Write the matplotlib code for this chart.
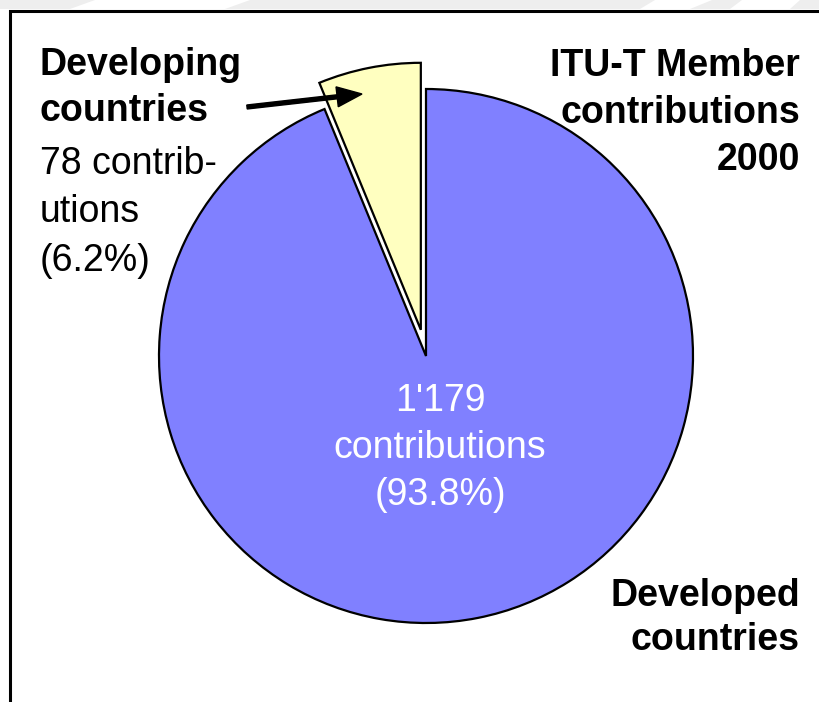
import matplotlib
matplotlib.use("Agg")
import matplotlib.pyplot as plt
from matplotlib.patches import Rectangle, Polygon

# データ（ITU-T Member contributions 2000）
groups = ["Developing countries", "Developed countries"]
contributions = [78, 1179]
shares = [6.2, 93.8]
title_lines = ["ITU-T Member", "contributions", "2000"]
slice_colors = ["#ffffc0", "#8080ff"]

W, H = 820, 702
fig = plt.figure(figsize=(W / 100, H / 100), dpi=100)

# 背景と枠
bg = fig.add_axes([0, 0, 1, 1], zorder=0)
bg.set_xlim(0, W)
bg.set_ylim(H, 0)
bg.axis("off")
bg.add_patch(Rectangle((0, 0), W, 9, color="#eeeeee", lw=0))
for xs in ([95, 250, 225, 70], [655, 712, 690, 640], [742, 800, 790, 730]):
    bg.add_patch(Polygon(list(zip(xs, [0, 0, 9, 9])), closed=True, color="white", lw=0))
bg.plot([10.5, 10.5, W], [H, 10.5, 10.5], color="black", lw=2.2, solid_joinstyle="miter")

# 円グラフ（中心・半径はピクセル指定）
cx, cy, r = 426, 356, 267
pad = 1.25 * r
pie_ax = fig.add_axes([(cx - pad) / W, (H - cy - pad) / H, 2 * pad / W, 2 * pad / H], zorder=1)
pie_ax.pie(contributions, colors=slice_colors, startangle=90, counterclock=True,
           explode=[0.1, 0], radius=1,
           wedgeprops=dict(edgecolor="black", linewidth=1.6))
pie_ax.set_xlim(-1.25, 1.25)
pie_ax.set_ylim(-1.25, 1.25)
pie_ax.set_aspect("equal")
pie_ax.axis("off")

# テキストと矢印（y は最終行のベースライン）
tx = fig.add_axes([0, 0, 1, 1], zorder=2)
tx.set_xlim(0, W)
tx.set_ylim(H, 0)
tx.axis("off")
tx.patch.set_visible(False)

bold = dict(fontfamily="Liberation Sans", fontweight="bold", fontsize=27, va="baseline")
normal = dict(fontfamily="Liberation Sans", fontsize=27, va="baseline")

dev_name, devd_name = groups
tx.text(40, 121, dev_name.replace(" ", "\n"), ha="left", linespacing=1.35, **bold)
tx.text(40, 271, f"{contributions[0]} contrib-\nutions\n({shares[0]}%)",
        ha="left", linespacing=1.45, **normal)
tx.text(800, 170, "\n".join(title_lines), ha="right", linespacing=1.4, **bold)
tx.text(440, 505, f"1'{contributions[1] - 1000}\ncontributions\n({shares[1]}%)",
        ha="center", color="white", linespacing=1.4, **normal)
tx.text(800, 650, devd_name.replace(" ", "\n"), ha="right", linespacing=1.3, **bold)

tx.arrow(247, 107, 115, -13, width=4, head_width=20, head_length=25,
         length_includes_head=True, color="black")

fig.savefig("out.png", dpi=100)
